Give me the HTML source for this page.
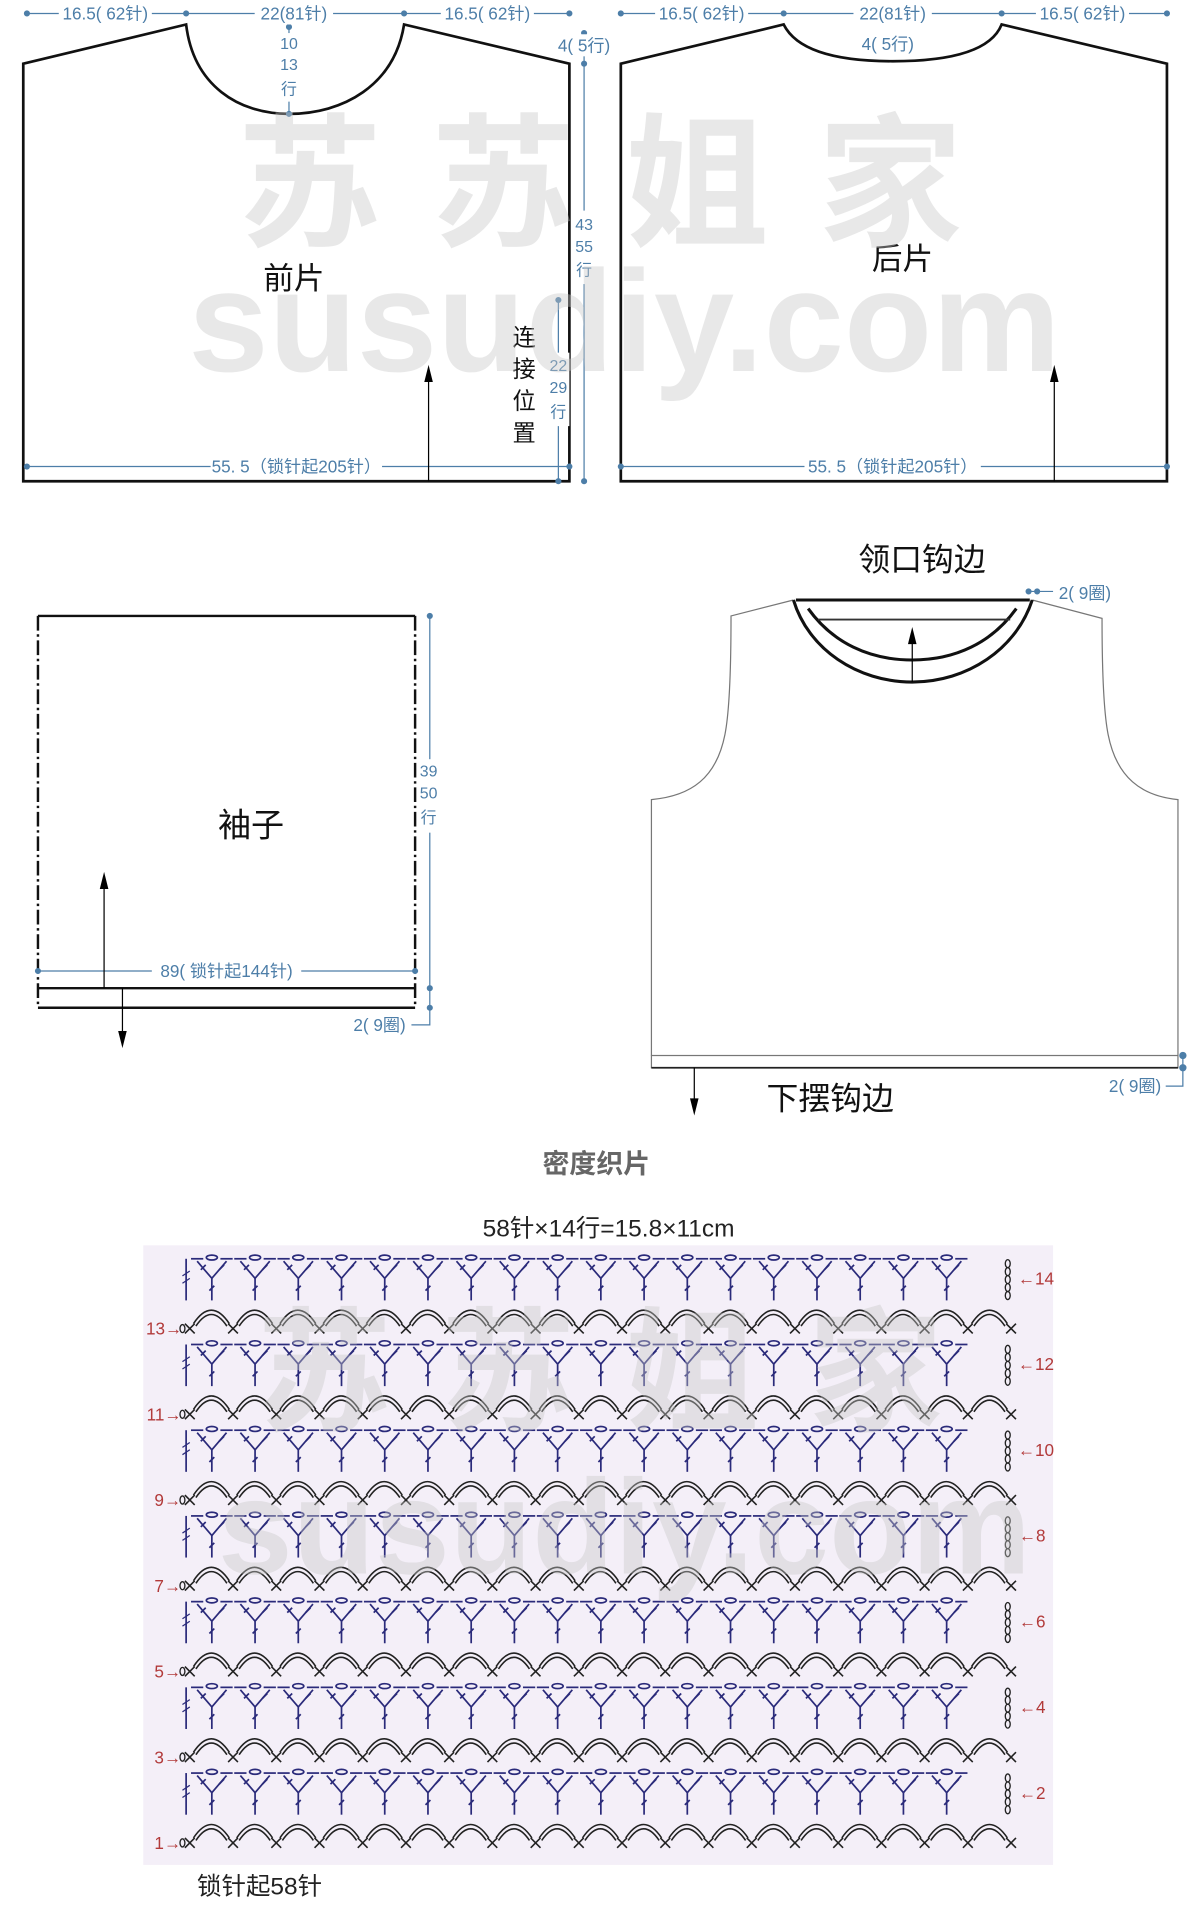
<!DOCTYPE html>
<html><head><meta charset="utf-8"><style>
html,body{margin:0;padding:0;background:#fff;}
svg{display:block;}
text{font-family:"Liberation Sans","Noto Sans CJK SC",sans-serif;}
</style></head><body>
<svg width="1200" height="1920" viewBox="0 0 980 1568" xmlns="http://www.w3.org/2000/svg">
<defs>
<g id="Y" fill="none" stroke="#2a2a7a" stroke-width="1.4">
  <line x1="-17" y1="0" x2="-7" y2="0"/><line x1="7" y1="0" x2="17" y2="0"/>
  <ellipse cx="0" cy="-1" rx="4.5" ry="2"/>
  <line x1="-12" y1="2" x2="0" y2="16"/><line x1="12" y1="2" x2="0" y2="16"/>
  <line x1="0" y1="16" x2="0" y2="34"/>
  <line x1="-9" y1="9" x2="-5" y2="5"/><line x1="6" y1="9" x2="10" y2="5"/>
  <line x1="-2" y1="26" x2="2" y2="22"/>
</g>
<g id="A" fill="none" stroke="#222" stroke-width="1.3">
  <path d="M3,-4 Q17.6,-26 32.3,-4"/>
  <path d="M5,-2 Q17.6,-21 30.3,-2"/>
  <line x1="-4" y1="-4" x2="4" y2="4"/><line x1="-4" y1="4" x2="4" y2="-4"/>
</g>
<g id="EVEN">
  <line x1="152" y1="0" x2="152" y2="34" stroke="#2a2a7a" stroke-width="1.4"/>
  <line x1="149" y1="14" x2="155" y2="10" stroke="#2a2a7a"/><line x1="149" y1="20" x2="155" y2="16" stroke="#2a2a7a"/>
  <use href="#Y" x="173"/><use href="#Y" x="208.3"/><use href="#Y" x="243.6"/><use href="#Y" x="278.9"/>
  <use href="#Y" x="314.2"/><use href="#Y" x="349.5"/><use href="#Y" x="384.8"/><use href="#Y" x="420.1"/>
  <use href="#Y" x="455.4"/><use href="#Y" x="490.7"/><use href="#Y" x="526"/><use href="#Y" x="561.3"/>
  <use href="#Y" x="596.6"/><use href="#Y" x="631.9"/><use href="#Y" x="667.2"/><use href="#Y" x="702.5"/>
  <use href="#Y" x="737.8"/><use href="#Y" x="773.1"/>
  <g fill="none" stroke="#222" stroke-width="1.1">
  <ellipse cx="823" cy="4" rx="2" ry="3.3"/><ellipse cx="823" cy="10.5" rx="2" ry="3.3"/>
  <ellipse cx="823" cy="17" rx="2" ry="3.3"/><ellipse cx="823" cy="23.5" rx="2" ry="3.3"/>
  <ellipse cx="823" cy="30" rx="2" ry="3.3"/>
  </g>
</g>
<g id="ODD">
  <use href="#A" x="155"/><use href="#A" x="190.3"/><use href="#A" x="225.6"/><use href="#A" x="260.9"/>
  <use href="#A" x="296.2"/><use href="#A" x="331.5"/><use href="#A" x="366.8"/><use href="#A" x="402.1"/>
  <use href="#A" x="437.4"/><use href="#A" x="472.7"/><use href="#A" x="508"/><use href="#A" x="543.3"/>
  <use href="#A" x="578.6"/><use href="#A" x="613.9"/><use href="#A" x="649.2"/><use href="#A" x="684.5"/>
  <use href="#A" x="719.8"/><use href="#A" x="755.1"/><use href="#A" x="790.4"/>
  <line x1="821.7" y1="-4" x2="829.7" y2="4" stroke="#222" stroke-width="1.3"/>
  <line x1="821.7" y1="4" x2="829.7" y2="-4" stroke="#222" stroke-width="1.3"/>
  <ellipse cx="149" cy="0" rx="2" ry="3.3" fill="none" stroke="#222" stroke-width="1.1"/>
</g>
<g id="arrowU"><path d="M0,0 l-3.5,14 l7,0 z" fill="#000"/></g>
</defs>

<!-- FRONT / BACK -->
<g fill="none" stroke="#111" stroke-width="2.2">
<path d="M19,52 L152,20 C158,70 195,93 236,93 C280,93 322,70 330,20 L465,52 L465,393 L19,393 Z"/>
<path d="M507,52 L640,20 C650,40 680,50 729,50 C780,50 810,40 818,20 L953,52 L953,393 L507,393 Z"/>
</g>
<g stroke="#4d7ea8" stroke-width="1" fill="#4d7ea8" font-size="14">
<line x1="22" y1="11" x2="465" y2="11"/>
<circle cx="22" cy="11" r="2"/><circle cx="152" cy="11" r="2"/><circle cx="330" cy="11" r="2"/><circle cx="465" cy="11" r="2"/>
<line x1="236" y1="22" x2="236" y2="93"/><circle cx="236" cy="22" r="2"/><circle cx="236" cy="93" r="2"/>
<line x1="477" y1="27" x2="477" y2="393"/><circle cx="477" cy="27" r="2"/><circle cx="477" cy="52" r="2"/><circle cx="477" cy="393" r="2"/>
<line x1="456" y1="245" x2="456" y2="393"/><circle cx="456" cy="245" r="2"/><circle cx="456" cy="393" r="2"/>
<line x1="22" y1="381" x2="465" y2="381"/><circle cx="22" cy="381" r="2"/><circle cx="465" cy="381" r="2"/>
<line x1="507" y1="11" x2="953" y2="11"/>
<circle cx="507" cy="11" r="2"/><circle cx="640" cy="11" r="2"/><circle cx="818" cy="11" r="2"/><circle cx="953" cy="11" r="2"/>
<line x1="507" y1="381" x2="953" y2="381"/><circle cx="507" cy="381" r="2"/><circle cx="953" cy="381" r="2"/>
</g>
<g fill="#4d7ea8" font-size="14" text-anchor="middle" stroke="none">
<rect x="48" y="2" width="76" height="18" fill="#fff"/><text x="86" y="16">16.5( 62针)</text>
<rect x="208" y="2" width="64" height="18" fill="#fff"/><text x="240" y="16">22(81针)</text>
<rect x="360" y="2" width="76" height="18" fill="#fff"/><text x="398" y="16">16.5( 62针)</text>
<rect x="227" y="27" width="18" height="56" fill="#fff"/>
<text x="236" y="40" font-size="13">10</text><text x="236" y="57" font-size="13">13</text><text x="236" y="77" font-size="13">行</text>
<rect x="455" y="28" width="42" height="18" fill="#fff"/><text x="477" y="42">4( 5行)</text>
<rect x="468" y="172" width="18" height="60" fill="#fff"/>
<text x="477" y="188" font-size="13">43</text><text x="477" y="206" font-size="13">55</text><text x="477" y="225" font-size="13">行</text>
<rect x="447" y="288" width="18" height="60" fill="#fff"/>
<text x="456" y="303" font-size="13">22</text><text x="456" y="321" font-size="13">29</text><text x="456" y="341" font-size="13">行</text>
<rect x="172" y="372" width="140" height="18" fill="#fff"/><text x="242" y="386">55. 5（锁针起205针）</text>
<rect x="535" y="2" width="76" height="18" fill="#fff"/><text x="573" y="16">16.5( 62针)</text>
<rect x="697" y="2" width="64" height="18" fill="#fff"/><text x="729" y="16">22(81针)</text>
<rect x="846" y="2" width="76" height="18" fill="#fff"/><text x="884" y="16">16.5( 62针)</text>
<text x="725" y="41">4( 5行)</text>
<rect x="657" y="372" width="144" height="18" fill="#fff"/><text x="729" y="386">55. 5（锁针起205针）</text>
</g>
<g fill="#111" text-anchor="middle">
<text x="240" y="236" font-size="25">前片</text>
<text x="737" y="220" font-size="25">后片</text>
<text x="428" y="282" font-size="19">连</text><text x="428" y="308" font-size="19">接</text>
<text x="428" y="334" font-size="19">位</text><text x="428" y="360" font-size="19">置</text>
</g>
<line x1="350" y1="393" x2="350" y2="305" stroke="#000" stroke-width="1"/><use href="#arrowU" x="350" y="298"/>
<line x1="861" y1="393" x2="861" y2="305" stroke="#000" stroke-width="1"/><use href="#arrowU" x="861" y="298"/>

<!-- SLEEVE -->
<g fill="none" stroke="#111" stroke-width="2">
<line x1="31" y1="503" x2="339" y2="503"/>
<line x1="31" y1="503" x2="31" y2="823" stroke-dasharray="12,3,2,3"/>
<line x1="339" y1="503" x2="339" y2="823" stroke-dasharray="12,3,2,3"/>
<line x1="31" y1="807" x2="339" y2="807"/>
<line x1="31" y1="823" x2="339" y2="823"/>
</g>
<g stroke="#4d7ea8" fill="#4d7ea8" stroke-width="1">
<line x1="351" y1="503" x2="351" y2="823"/><circle cx="351" cy="503" r="2"/><circle cx="351" cy="807" r="2"/><circle cx="351" cy="823" r="2"/>
<polyline points="336,837 351,837 351,823" fill="none"/>
<line x1="31" y1="793" x2="339" y2="793"/><circle cx="31" cy="793" r="2"/><circle cx="339" cy="793" r="2"/>
</g>
<g fill="#4d7ea8" font-size="14" text-anchor="middle">
<rect x="342" y="620" width="18" height="60" fill="#fff"/>
<text x="350" y="634" font-size="13">39</text><text x="350" y="652" font-size="13">50</text><text x="350" y="672" font-size="13">行</text>
<text x="310" y="842">2( 9圈)</text>
<rect x="124" y="784" width="122" height="18" fill="#fff"/><text x="185" y="798">89( 锁针起144针)</text>
</g>
<text x="205" y="683" font-size="27" text-anchor="middle" fill="#111">袖子</text>
<line x1="85" y1="807" x2="85" y2="720" stroke="#000"/><use href="#arrowU" x="85" y="712"/>
<line x1="100" y1="807" x2="100" y2="845" stroke="#000"/><use href="#arrowU" transform="translate(100,856) scale(1,-1)"/>

<!-- VEST -->
<g fill="none" stroke="#777" stroke-width="1">
<path d="M648,490 L597,503 C597,540 596,580 592,600 C585,635 565,650 532,653 L532,862"/>
<path d="M843,490 L900,505 C900,540 901,580 905,600 C912,635 932,650 962,653 L962,862"/>
<rect x="532" y="862" width="430" height="10"/>
</g>
<line x1="532" y1="872" x2="962" y2="872" stroke="#222" stroke-width="1.5"/>
<g fill="none" stroke="#111" stroke-width="2.5">
<line x1="650" y1="490" x2="841" y2="490"/>
<path d="M648,490 C660,530 700,557 745,557 C790,557 830,530 843,490"/>
<path d="M660,497 C680,525 710,539 745,539 C780,539 810,525 830,497"/>
</g>
<line x1="668" y1="506" x2="825" y2="506" stroke="#333" stroke-width="1.5"/>
<line x1="745" y1="557" x2="745" y2="520" stroke="#000"/><use href="#arrowU" x="745" y="512"/>
<line x1="567" y1="872" x2="567" y2="900" stroke="#000"/><use href="#arrowU" transform="translate(567,911) scale(1,-1)"/>
<g fill="#111" font-size="26" text-anchor="middle">
<text x="753" y="466">领口钩边</text>
<text x="678" y="906">下摆钩边</text>
</g>
<g stroke="#4d7ea8" fill="#4d7ea8">
<circle cx="840" cy="483" r="2"/><circle cx="847" cy="483" r="2"/><line x1="840" y1="483" x2="860" y2="483"/>
<circle cx="966" cy="862" r="2.5"/><circle cx="966" cy="872" r="2.5"/>
<polyline points="952,887 966,887 966,862" fill="none"/>
</g>
<g fill="#4d7ea8" font-size="14" text-anchor="middle">
<text x="886" y="489">2( 9圈)</text>
<text x="927" y="892">2( 9圈)</text>
</g>

<!-- CHART -->
<text x="487" y="958" font-size="22" font-weight="bold" fill="#666" text-anchor="middle">密度织片</text>
<text x="497" y="1010" font-size="20" fill="#222" text-anchor="middle">58针×14行=15.8×11cm</text>
<rect x="117" y="1017" width="743" height="506" fill="#f4eff8"/>
<use href="#EVEN" y="1028"/><use href="#ODD" y="1085"/>
<use href="#EVEN" y="1098"/><use href="#ODD" y="1155"/>
<use href="#EVEN" y="1168"/><use href="#ODD" y="1225"/>
<use href="#EVEN" y="1238"/><use href="#ODD" y="1295"/>
<use href="#EVEN" y="1308"/><use href="#ODD" y="1365"/>
<use href="#EVEN" y="1378"/><use href="#ODD" y="1435"/>
<use href="#EVEN" y="1448"/><use href="#ODD" y="1505"/>
<g font-size="14" fill="#b23a3a" text-anchor="middle">
<text x="846" y="1049">←14</text><text x="846" y="1119">←12</text><text x="846" y="1189">←10</text>
<text x="843" y="1259">←8</text><text x="843" y="1329">←6</text><text x="843" y="1399">←4</text><text x="843" y="1469">←2</text>
<text x="134" y="1090">13→</text><text x="134" y="1160">11→</text><text x="137" y="1230">9→</text>
<text x="137" y="1300">7→</text><text x="137" y="1370">5→</text><text x="137" y="1440">3→</text><text x="137" y="1510">1→</text>
</g>
<text x="212" y="1547" font-size="20" fill="#222" text-anchor="middle">锁针起58针</text>

<!-- watermarks -->
<g fill="#c8c8c8" opacity="0.4" font-weight="bold" text-anchor="middle">
<text x="510" y="192" font-size="118" letter-spacing="40">苏苏姐家</text>
<text x="510" y="303" font-size="118">susudiy.com</text>
<text x="510" y="1160" font-size="110" letter-spacing="40">苏苏姐家</text>
<text x="510" y="1285" font-size="110">susudiy.com</text>
</g>
</svg>
</body></html>
